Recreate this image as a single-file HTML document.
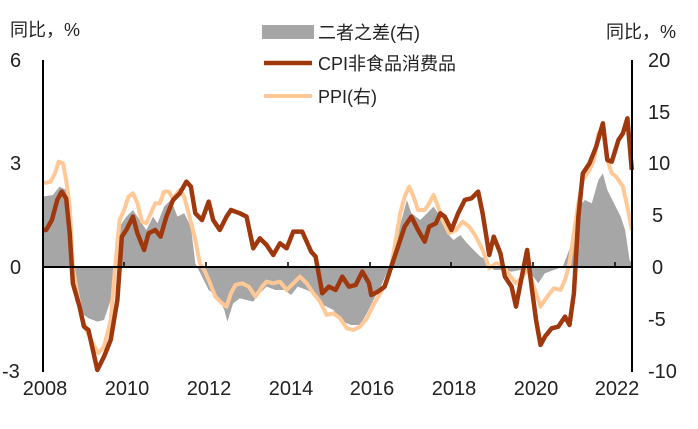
<!DOCTYPE html>
<html><head><meta charset="utf-8"><style>
html,body{margin:0;padding:0;background:#fff;}
svg{display:block;font-family:"Liberation Sans","Noto Sans CJK SC",sans-serif;}
</style></head><body>
<svg width="698" height="429" viewBox="0 0 698 429">
<g transform="matrix(0.4454 0 0 0.3333 -0.65 0)">
<polygon fill="#A6A6A6" points="98,800 98,590 120,585 135,560 150,570 160,700 170,900 185,940 200,955 220,965 235,960 250,900 260,820 270,680 285,650 300,630 315,660 330,690 345,650 355,670 370,620 385,600 400,650 415,640 430,680 440,790 455,830 470,870 490,890 505,930 512,965 525,910 540,895 555,900 570,905 585,880 600,860 620,870 640,870 655,885 670,860 690,870 705,880 720,910 735,920 750,930 770,965 790,975 810,975 825,940 840,900 860,850 875,800 890,720 905,650 915,600 925,640 945,660 960,640 975,620 990,650 1005,700 1020,720 1035,705 1050,730 1065,750 1080,770 1095,780 1110,810 1130,810 1150,815 1170,810 1190,815 1210,850 1225,820 1245,810 1265,800 1285,730 1300,620 1315,600 1330,610 1345,540 1355,520 1365,570 1380,610 1395,650 1405,690 1415,780 1420,790 1420,800"/>
<polyline fill="none" stroke="#FFC896" stroke-width="4" vector-effect="non-scaling-stroke" stroke-linejoin="round" points="98,550 115,545 125,520 133,485 143,490 150,540 158,620 165,800 175,880 185,950 195,990 210,1030 222,1060 235,1040 250,960 260,800 270,660 280,630 290,590 300,580 310,610 320,665 330,670 340,640 350,610 360,610 370,575 380,575 390,595 405,570 415,590 425,640 440,720 450,790 460,810 470,840 485,890 500,910 510,920 520,880 530,855 545,850 560,860 575,890 590,860 600,845 615,850 630,845 645,870 660,850 675,830 690,850 705,880 720,905 735,945 750,940 765,955 780,985 795,990 810,980 825,955 840,915 855,880 870,845 880,800 890,720 900,640 910,590 920,560 930,590 940,630 955,630 965,610 975,585 985,620 995,660 1010,700 1025,690 1040,665 1055,680 1070,710 1085,750 1100,805 1115,790 1130,795 1145,825 1160,850 1175,830 1185,805 1195,840 1205,880 1215,920 1230,890 1245,865 1260,870 1270,840 1280,790 1290,700 1300,610 1310,540 1325,510 1335,480 1345,400 1355,385 1365,480 1375,520 1385,530 1400,560 1410,620 1420,690"/>
<polyline fill="none" stroke="#A0380E" stroke-width="4.5" vector-effect="non-scaling-stroke" stroke-linejoin="round" points="98,690 105,690 118,660 130,600 140,575 150,595 158,700 165,850 180,920 190,980 200,990 210,1050 220,1110 235,1070 250,1020 265,900 275,710 285,690 300,650 310,700 325,750 335,700 350,690 362,710 375,650 390,600 405,580 420,545 430,560 440,640 455,660 470,605 480,660 495,690 510,650 520,630 540,640 555,650 570,745 585,715 600,735 615,765 630,730 645,745 660,695 680,695 700,755 710,770 725,880 740,860 755,870 770,830 785,860 800,855 815,815 830,850 835,885 850,875 865,860 880,800 895,740 910,680 925,650 940,690 955,725 965,680 980,670 990,640 1000,650 1015,690 1030,640 1045,600 1060,595 1075,575 1085,640 1100,765 1110,710 1125,760 1135,830 1150,860 1160,920 1170,850 1185,750 1195,860 1205,960 1215,1035 1225,1010 1240,985 1255,980 1270,950 1280,975 1290,880 1300,650 1310,520 1325,490 1340,440 1355,370 1365,480 1375,485 1390,420 1400,400 1410,355 1420,510"/>
</g>
<line x1="43" y1="267" x2="632" y2="267" stroke="#000" stroke-width="2"/>
<g stroke="#000" stroke-width="1.5">
<line x1="124" y1="262" x2="124" y2="267"/><line x1="206" y1="262" x2="206" y2="267"/><line x1="288" y1="262" x2="288" y2="267"/><line x1="370" y1="262" x2="370" y2="267"/><line x1="451" y1="262" x2="451" y2="267"/><line x1="533" y1="262" x2="533" y2="267"/><line x1="615" y1="262" x2="615" y2="267"/>
</g>
<line x1="43" y1="60" x2="43" y2="372" stroke="#000" stroke-width="2"/>
<line x1="632" y1="60" x2="632" y2="372" stroke="#000" stroke-width="2"/>
<g font-size="20" fill="#222">
<text x="10" y="67">6</text><text x="10" y="170">3</text><text x="10" y="274">0</text><text x="2" y="378">-3</text>
<text x="648" y="67">20</text><text x="648" y="119">15</text><text x="648" y="170">10</text><text x="652" y="222">5</text><text x="652" y="274">0</text><text x="648" y="326">-5</text><text x="648" y="378">-10</text>
<g text-anchor="middle">
<text x="45" y="395">2008</text><text x="127" y="395">2010</text><text x="209" y="395">2012</text><text x="291" y="395">2014</text><text x="372" y="395">2016</text><text x="454" y="395">2018</text><text x="536" y="395">2020</text><text x="617" y="395">2022</text>
</g>
<text x="10" y="36" font-size="18">同比，%</text>
<text x="606" y="38" font-size="18">同比，%</text>
</g>
<rect x="262" y="25" width="52" height="14" fill="#A6A6A6"/>
<line x1="264" y1="63" x2="312" y2="63" stroke="#A0380E" stroke-width="4.5"/>
<line x1="264" y1="96" x2="312" y2="96" stroke="#FFC896" stroke-width="4"/>
<g font-size="18" fill="#222">
<text x="318" y="39">二者之差(右)</text>
<text x="318" y="70">CPI非食品消费品</text>
<text x="318" y="103">PPI(右)</text>
</g>
</svg>
</body></html>
